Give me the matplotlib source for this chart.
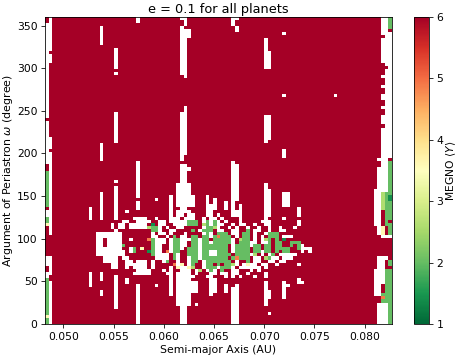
import numpy as np
import matplotlib
matplotlib.use("Agg")
import matplotlib.pyplot as plt

title = "e = 0.1 for all planets"
x_label = "Semi-major Axis (AU)"
y_label = r"Argument of Periastron $\omega$ (degree)"
cbar_label = r"MEGNO $\langle Y\rangle$"
sma_min, sma_max = 0.04818, 0.08272
omega_min, omega_max = 0.0, 360.0
n_sma, n_omega = 95, 100
x_ticks = [0.050, 0.055, 0.060, 0.065, 0.070, 0.075, 0.080]
y_ticks = [0, 50, 100, 150, 200, 250, 300, 350]
megno_levels = {'.': 6.0, 'g': 2.0, 'd': 1.4, 'l': 2.6, 'y': 3.6, 'o': 4.9, '_': np.nan}

# central region, omega cells 36 down to 15, sma cells 10..74
core_top_row = 36
core_first_col = 10
core_rows = [
".._.. _..._ .._.. ..... ...._ .____ ...._ _.... .___. ..... __... ...._ .....",
".._.. _..._ ..... ..... ...._ .__._ _..._ _._.. .___. ..... __... ...._ .....",
".._.. _..._ ...._ ___.. _..._ __.__ _.._. __._. ..._. ..... _.... _.... .....",
"..... ..... .__.. ____. .__._ ____g gg._g _g_._ ..._. ...._ __... ...._ .....",
"..... ..._. __.__ ___.d .__.. ____g gg.lg _g__. ._.__ .._.. __... ...._ .....",
"..... ..._. __.__ ___lg g_._. .__.. ..._g gl_.. _._.. _.._. ._.._ ..._. .....",
"..... ...._ ..... ....g g_.._ _.... g._gg g.__. .__.. g.__. ._.._ _.... .....",
"...._ _____ _.... ...._ .__._ ..._. ..._g _.ggg .__.g g._.. _ggg. ..... .....",
"...._ _____ _.... ...._ _.._. g.__. gg.gg _gogg g._.g g._._ .ggg. ___.. .....",
"...._ _.___ _.._. ...og ___._ gg___ gg_gg .gggg g_.lg g._._ lg.g. d.... .....",
"...._ _.___ _.... ....g ___._ gg__. gg_gg _gggg g_.gg g__._ _g.gg ..ggg .....",
"...._ _.___ _g... ....g __.._ gg__. gg_gg ggggg ._ggg g_gg. gg.gg ..g.g _....",
"...._ _____ _.._g .y..g __.._ gg_.g gg_gg ggggg ._ggg g.gg. gg.gg gg..g ___..",
"...._ _____ __._g ...dg __.o_ gg..g gg_gg __ggg ._ggg g.gg_ gg.g. gg... _._..",
"...._ _____ __... ....g ____. g_..g gg_gg __ggg g.ggg g_l._ ._g._ ____. .....",
"..... .____ .__.. ..... ____. g_.._ gg_gg ggggg .gogg g.__. lg__. ___.. .....",
"..... .____ ..__. ___._ .._g. ._.._ gg._g ggggg g._.. g.__. .__._ _.... .....",
"..... ...__ ..___ ___._ ..... o_y._ g.._g g.g.g gl_._ y__._ _.._. ...._ .....",
"..... ...__ .._._ ___._ ...._ .y__y l.._g gg_gg g_.__ ____. _.... ..... .....",
"..... ..... ..... ____. .._._ ..___ ._l._ g_.g. .__.. ._._. ..... ..... .....",
".._.. _.... ...._ ____. ...__ .____ ._... __.__ .__.. _.... _.... ..... .....",
".._.. _..._ ..... ..... ...._ .____ _..._ _..._ ._._. .._.. _.... ..... .....",
]

# (sma cell, first omega cell, last omega cell) missing stable-integration cells
white_runs = [
(12,37,37),(12,12,14),(15,37,42),(15,53,58),(15,91,96),(15,14,14),(15,9,10),
(19,37,44),(19,46,46),(19,59,68),(19,81,81),(19,83,89),(19,5,14),(22,13,14),
(25,37,39),(25,41,52),(25,98,99),(25,0,12),(30,40,40),(30,12,12),(34,37,41),(34,9,14),
(36,38,45),(37,37,51),(38,37,51),(39,38,45),(40,38,41),
(37,53,68),(38,55,70),(39,50,50),(37,81,96),(38,80,95),(39,93,95),(37,99,99),(38,97,99),
(37,0,14),(38,0,14),(36,6,14),(39,6,14),(40,10,13),(41,10,13),(41,6,6),
(44,37,41),(45,37,38),(46,37,40),(49,37,39),(45,9,14),(46,10,14),(49,10,12),
(51,37,52),(52,40,51),(51,97,99),(52,95,96),(52,99,99),(53,37,38),(51,0,11),(52,0,12),
(60,37,45),(61,37,43),(60,59,67),(60,83,92),(61,60,67),(61,83,88),(60,6,13),(61,8,10),(61,3,3),
(65,38,42),(66,38,42),(65,54,56),(65,74,74),(65,94,94),(79,74,74),(65,8,13),(66,12,12),
(69,37,37),(69,13,14),(70,13,13),
# left edge
(0,15,16),(0,19,21),(0,35,36),(0,52,65),(0,67,97),
(1,0,13),(1,16,21),(1,29,55),(1,57,60),(1,85,87),(1,89,99),
# right edge
(94,54,94),(94,28,28),(93,0,6),(93,21,21),(92,0,6),(92,21,21),(91,0,6),(91,18,21),(91,9,17),(90,9,17),
(90,32,43),(91,32,43),(92,28,28),(93,28,28),(91,29,31),
(91,43,50),(92,43,94),(93,43,99),(92,95,99),(91,53,53),(92,13,20),
]
# cells painted back over the white runs
value_runs = [
(0,0,14,'g'),(0,2,2,'y'),(0,32,32,'y'),(0,33,34,'g'),(0,38,49,'g'),
(94,0,17,'g'),(94,19,20,'g'),(94,29,52,'g'),(94,96,99,'g'),(94,40,41,'d'),(94,33,33,'.'),
(93,7,17,'g'),(93,29,31,'.'),(93,32,42,'g'),(92,7,9,'g'),(92,8,8,'o'),(92,10,10,'.'),(92,12,12,'.'),
(92,29,31,'y'),(92,36,36,'.'),(92,37,42,'l'),
(92,93,93,'.'),(92,81,84,'.'),(93,83,83,'.'),(92,78,79,'.'),(92,75,76,'.'),(92,71,72,'.'),(92,68,69,'.'),(92,64,64,'.'),
]

grid = np.full((n_omega, n_sma), megno_levels['.'])
for i, row in enumerate(core_rows):
    chars = row.replace(' ', '')
    assert len(chars) == 65, (i, len(chars))
    for j, ch in enumerate(chars):
        grid[core_top_row - i, core_first_col + j] = megno_levels[ch]
for c, r0, r1 in white_runs:
    grid[r0:r1 + 1, c] = np.nan
for c, r0, r1, ch in value_runs:
    grid[r0:r1 + 1, c] = megno_levels[ch]

x_edges = np.linspace(sma_min, sma_max, n_sma + 1)
y_edges = np.linspace(omega_min, omega_max, n_omega + 1)

W, H = 458, 358
fig = plt.figure(figsize=(W / 72, H / 72), dpi=72)
ax = fig.add_axes([45 / W, 1 - 324 / H, 347 / W, 307 / H])
mesh = ax.pcolormesh(x_edges, y_edges, np.ma.masked_invalid(grid), cmap='RdYlGn_r', vmin=1, vmax=6)
ax.set_xticks(x_ticks)
ax.set_xticklabels([f"{t:.3f}" for t in x_ticks], fontsize=10.8)
ax.set_yticks(y_ticks)
ax.tick_params(axis='y', labelsize=10.8, length=4)
ax.tick_params(axis='x', pad=4.5)
ax.set_xlabel(x_label, labelpad=3, fontsize=10.9)
ax.set_ylabel(y_label, labelpad=1.5, fontsize=11)
ax.set_title(title, pad=4, fontsize=12.9)
cax = fig.add_axes([413.5 / W, 1 - 324 / H, 15.5 / W, 307 / H])
cb = fig.colorbar(mesh, cax=cax)
cb.set_ticks([1, 2, 3, 4, 5, 6])
cb.ax.tick_params(labelsize=10.8, length=4)
cb.set_label(cbar_label, fontsize=10.8, labelpad=1)
fig.savefig("out.png", dpi=72)
